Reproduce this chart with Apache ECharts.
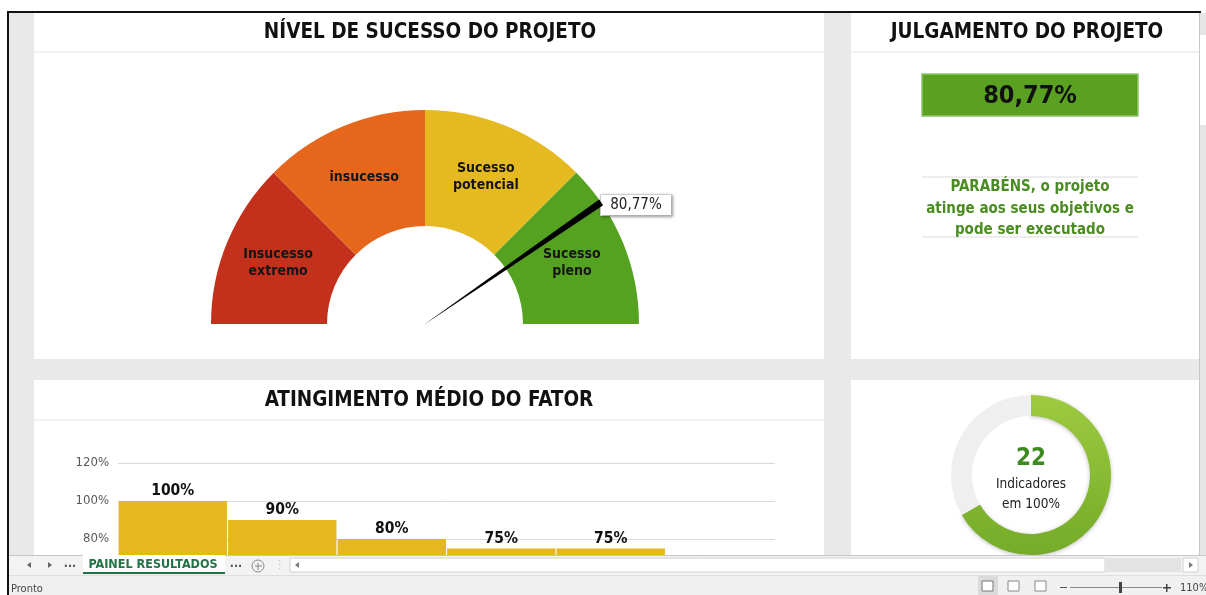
<!DOCTYPE html>
<html>
<head>
<meta charset="utf-8">
<script src="https://cdn.jsdelivr.net/npm/echarts@6/dist/echarts.min.js"></script>
<style>
html,body{margin:0;padding:0;background:#fff}
#main{width:1206px;height:595px}
</style>
</head>
<body>
<div id="main"></div>
<script>
// dados do painel
var faixas = ['Insucesso\nextremo', 'insucesso', 'Sucesso\npotencial', 'Sucesso\npleno'];
var faixaPeso = [25, 25, 25, 25];
var faixaCores = ['#c3301b', '#e6661b', '#e5b920', '#55a120'];
var notaProjeto = 80.77;
var mensagem = ['PARABÉNS, o projeto', 'atinge aos seus objetivos e', 'pode ser executado'];
var fatores = ['Fator 1', 'Fator 2', 'Fator 3', 'Fator 4', 'Fator 5', 'Fator 6'];
var atingimento = [100, 90, 80, 75, 75, null];
var indicadores100 = 22;
var indicadoresTotal = 33;

var FONTE = '"DejaVu Sans Condensed", "DejaVu Sans", sans-serif';
var fmtPct = function (v) { return v.toFixed(2).replace('.', ',') + '%'; };

var myChart = echarts.init(document.getElementById('main'));

function txt(x, y, s, size, cor, peso, z) {
    return {
        type: 'text', x: x, y: y, z: z || 5,
        style: {
            text: s, fontSize: size, fill: cor, fontWeight: peso || 'normal',
            fontFamily: FONTE, align: 'center', verticalAlign: 'middle'
        }
    };
}
function ret(x, y, w, h, cor, z, borda) {
    var r = { type: 'rect', z: z, shape: { x: x, y: y, width: w, height: h }, style: { fill: cor } };
    if (borda) { r.style.stroke = borda; r.style.lineWidth = 1; }
    return r;
}
function tri(pts, cor) {
    return { type: 'polygon', z: 101, shape: { points: pts }, style: { fill: cor } };
}

var graficos = [
    // fundo e paineis
    ret(8, 13, 1192, 542, '#e9e9e9', -2),
    ret(34, 13, 790, 346, '#fff', -1),
    ret(851, 13, 348, 346, '#fff', -1),
    ret(34, 380, 790, 175, '#fff', -1),
    ret(851, 380, 348, 175, '#fff', -1),
    ret(34, 51, 790, 2, '#f1f1f1', -1),
    ret(851, 51, 348, 2, '#f1f1f1', -1),
    ret(34, 419, 790, 2, '#f1f1f1', -1),
    // barra de rolagem vertical
    ret(1199, 13, 7, 542, '#e6e6e6', 100),
    ret(1199, 13, 1, 542, '#c8c8c8', 100),
    ret(1200, 35, 6, 90, '#fff', 100),
    // bordas pretas
    ret(7, 11, 1194, 2, '#111', 102),
    ret(7, 11, 2, 584, '#111', 102),
    // titulos
    txt(430, 33, 'NÍVEL DE SUCESSO DO PROJETO', 20.5, '#111', 'bold'),
    txt(1027, 33, 'JULGAMENTO DO PROJETO', 20.5, '#111', 'bold'),
    txt(429, 401, 'ATINGIMENTO MÉDIO DO FATOR', 20.5, '#111', 'bold'),
    // julgamento
    { type: 'rect', z: 3, shape: { x: 922, y: 74, width: 216, height: 42 },
      style: { fill: '#5aa121', stroke: '#8fc46c', lineWidth: 1.5 } },
    txt(1030, 96, fmtPct(notaProjeto), 25, '#111', 'bold'),
    ret(922, 176, 216, 2, '#ededed', 3),
    ret(922, 236, 216, 2, '#ededed', 3),
    txt(1030, 187, mensagem[0], 15, '#4b8c22', 'bold'),
    txt(1030, 209, mensagem[1], 15, '#4b8c22', 'bold'),
    txt(1030, 230, mensagem[2], 15, '#4b8c22', 'bold'),
    // centro da rosca
    txt(1031, 459, String(indicadores100), 24, '#3d8b1f', 'bold'),
    txt(1031, 484, 'Indicadores', 13.5, '#222'),
    txt(1031, 504, 'em 100%', 13.5, '#222'),
    // barra de abas
    ret(9, 555, 1197, 20, '#f3f3f3', 100),
    ret(9, 555, 1197, 1, '#c6c6c6', 100),
    tri([[31, 562], [31, 568], [27, 565]], '#666'),
    tri([[48, 562], [48, 568], [52, 565]], '#666'),
    txt(70, 564, '...', 12, '#555', 'bold', 101),
    ret(83, 555, 142, 19, '#fff', 100),
    ret(83, 572, 142, 2, '#217346', 101),
    txt(153, 565, 'PAINEL RESULTADOS', 12.5, '#217346', 'bold', 101),
    txt(236, 564, '...', 12, '#555', 'bold', 101),
    { type: 'circle', z: 101, shape: { cx: 258, cy: 566, r: 6 }, style: { fill: 'none', stroke: '#888', lineWidth: 1 } },
    ret(255, 565.5, 7, 1, '#888', 101),
    ret(257.5, 563, 1, 7, '#888', 101),
    txt(280, 565, '⋮', 11, '#bbb', 'normal', 101),
    ret(290, 558, 815, 14, '#fff', 100, '#d0d0d0'),
    tri([[299, 562], [299, 568], [295, 565]], '#777'),
    ret(1105, 558, 76, 14, '#e3e3e3', 100),
    ret(1183, 558, 15, 14, '#fff', 100, '#d0d0d0'),
    tri([[1189, 562], [1189, 568], [1193, 565]], '#777'),
    // barra de status
    ret(9, 575, 1197, 20, '#f0f0f0', 100),
    ret(9, 575, 1197, 1, '#dedede', 100),
    { type: 'text', z: 101, x: 11, y: 589, style: { text: 'Pronto', fontSize: 11, fill: '#444', fontFamily: FONTE, verticalAlign: 'middle' } },
    ret(978, 576, 20, 19, '#dadada', 100),
    ret(982, 581, 11, 10, '#fff', 101, '#777'),
    ret(1008, 581, 11, 10, '#fff', 101, '#888'),
    ret(1035, 581, 11, 10, '#fff', 101, '#888'),
    ret(1060, 587, 7, 1, '#555', 101),
    ret(1070, 587, 92, 1, '#888', 101),
    ret(1119, 582, 3, 11, '#444', 101),
    ret(1163, 587, 8, 1.5, '#444', 101),
    ret(1166, 584, 1.5, 8, '#444', 101),
    { type: 'text', z: 101, x: 1180, y: 588, style: { text: '110%', fontSize: 11, fill: '#444', fontFamily: FONTE, verticalAlign: 'middle' } }
];

var option = {
    animation: false,
    textStyle: { fontFamily: FONTE },
    graphic: { elements: graficos },
    grid: { left: 118, top: 463, width: 657, height: 228, outerBoundsMode: 'none', containLabel: false },
    xAxis: {
        type: 'category', data: fatores,
        axisLine: { show: false }, axisTick: { show: false }, axisLabel: { show: false }
    },
    yAxis: {
        type: 'value', min: 0, max: 120, interval: 20,
        axisLabel: { formatter: '{value}%', color: '#595959', fontSize: 13, margin: 9, fontFamily: FONTE },
        splitLine: { lineStyle: { color: '#d9d9d9' } }
    },
    series: [
        {
            // semicirculo de faixas
            type: 'pie', center: [425, 324], radius: [98, 214],
            startAngle: 180, endAngle: 0, silent: true,
            label: {
                show: true, position: 'inside', color: '#151515', fontSize: 14,
                fontWeight: 'bold', lineHeight: 17, fontFamily: FONTE,
                formatter: function (p) { return p.name; }
            },
            labelLine: { show: false },
            data: faixas.map(function (n, i) {
                return { name: n, value: faixaPeso[i], itemStyle: { color: faixaCores[i] } };
            })
        },
        {
            // ponteiro
            type: 'gauge', center: [425, 324], radius: 214,
            startAngle: 180, endAngle: 0, min: 0, max: 100, z: 5,
            axisLine: { show: false }, splitLine: { show: false },
            axisTick: { show: false }, axisLabel: { show: false },
            pointer: {
                icon: 'path://M0,0 L10,0 L5.2,100 L4.8,100 Z',
                length: '100%', width: 7, offsetCenter: [0, 0],
                itemStyle: { color: '#000' }
            },
            anchor: { show: false }, title: { show: false },
            detail: {
                offsetCenter: [211, -119], formatter: fmtPct,
                width: 62, height: 16, lineHeight: 16,
                fontSize: 15, color: '#222', fontWeight: 'normal', fontFamily: FONTE,
                backgroundColor: '#fff', borderColor: '#d6d6d6', borderWidth: 1,
                padding: [2, 4, 2, 4], shadowBlur: 3, shadowColor: 'rgba(0,0,0,0.3)',
                shadowOffsetX: 1, shadowOffsetY: 1
            },
            data: [{ value: notaProjeto }]
        },
        {
            type: 'bar', data: atingimento, barCategoryGap: '1%',
            itemStyle: { color: '#e5b820' },
            label: {
                show: true, position: 'top', distance: 2, fontSize: 15.5, fontWeight: 'bold',
                color: '#111', fontFamily: FONTE, formatter: '{c}%'
            }
        },
        {
            type: 'pie', center: [1031, 475], radius: [59, 80], startAngle: 90,
            silent: true, label: { show: false }, labelLine: { show: false },
            data: [
                { value: indicadores100, itemStyle: {
                    color: new echarts.graphic.LinearGradient(0, 0, 0, 1, [
                        { offset: 0, color: '#9dca40' }, { offset: 1, color: '#74ab28' }
                    ]),
                    shadowBlur: 4, shadowColor: 'rgba(0,0,0,0.25)', shadowOffsetY: 1 } },
                { value: indicadoresTotal - indicadores100, itemStyle: { color: '#efefef' } }
            ]
        }
    ]
};
myChart.setOption(option);
</script>
</body>
</html>
